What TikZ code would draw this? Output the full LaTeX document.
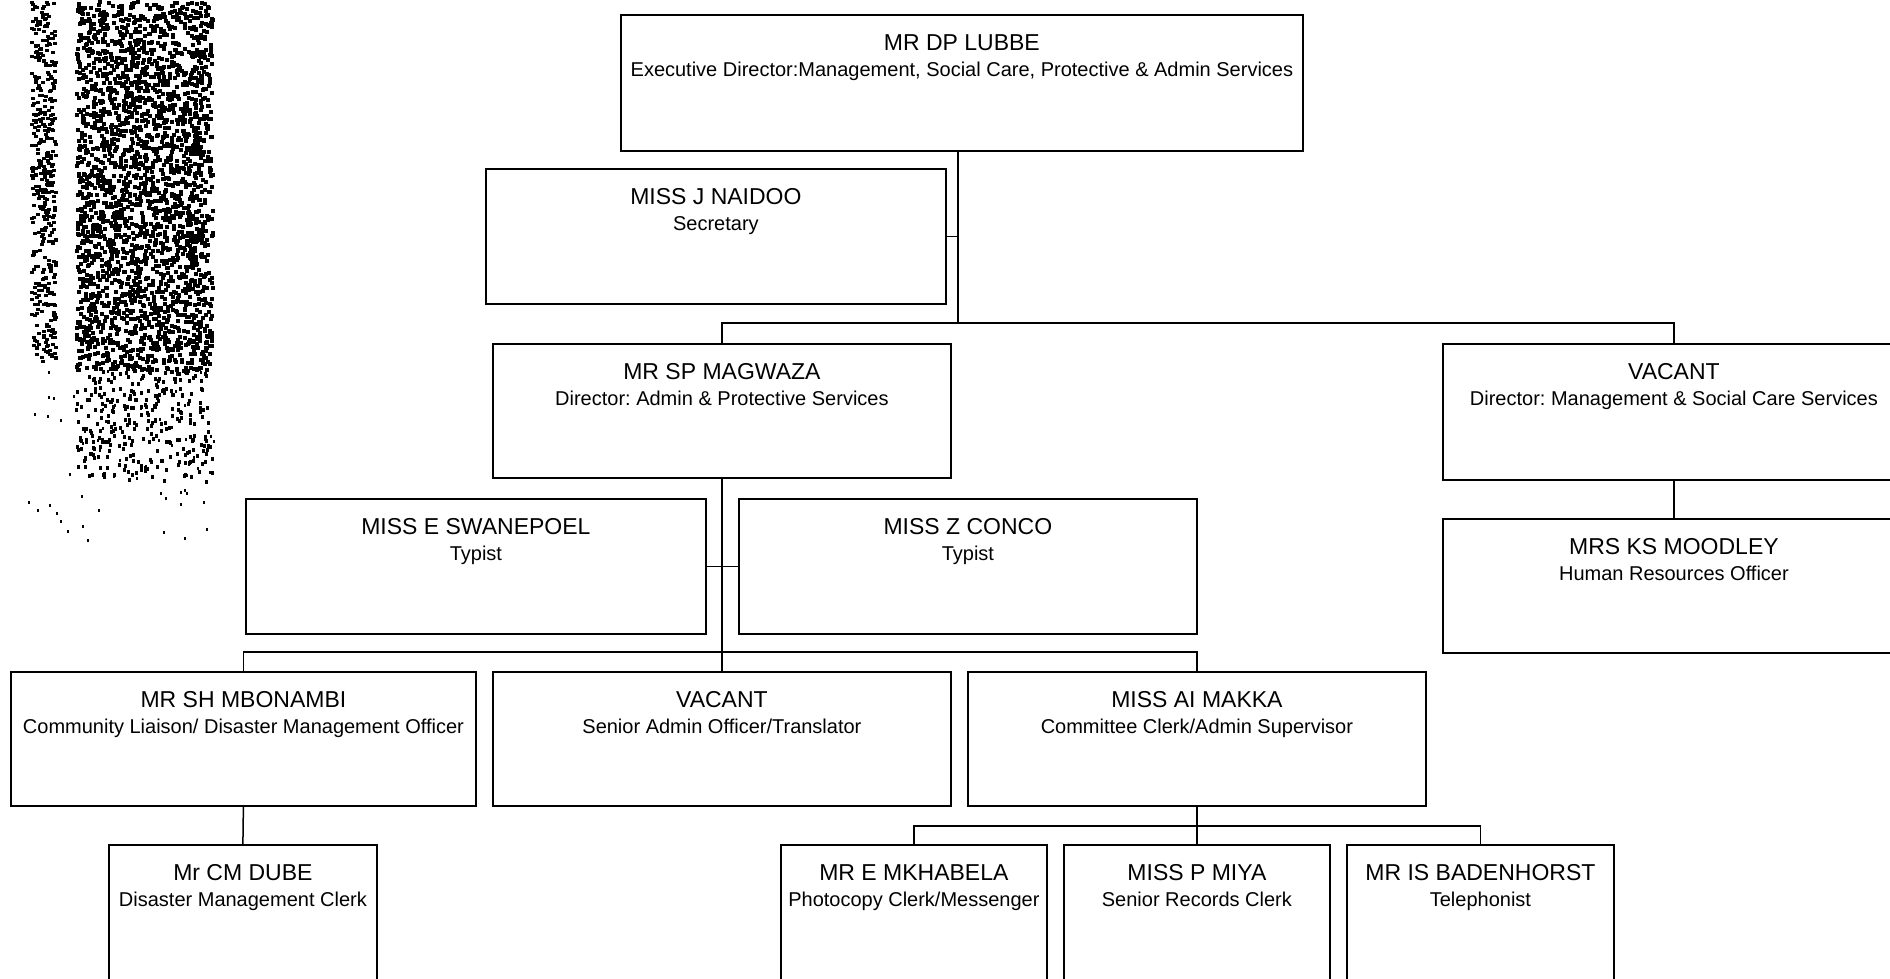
\documentclass[tikz,border=0pt]{standalone}
\usepackage{fontspec}
\setmainfont{Liberation Sans}
\usetikzlibrary{positioning, calc}
\frenchspacing

\tikzset{
	post/.style = {draw, line width=1.8pt, inner sep=0pt, anchor=north west,
		text height=36pt, font=\fontsize{20}{25.5}\selectfont},
	link/.style = {line width=1.5pt},
}
\newcommand{\who}[1]{{\fontsize{23}{25.5}\selectfont #1}}

\begin{document}
\begin{tikzpicture}[x=1pt, y=-1pt]
	\useasboundingbox (0,0) rectangle (1890,979);
	\clip (0,0) rectangle (1890,979);

	% scanner speckle on the left margin
	\pgfmathsetseed{11}
	\foreach \i in {1,...,2600} {
		\fill ({75+136*rnd},{370*rnd}) rectangle ++(4,4);
	}
	\foreach \i in {1,...,300} {
		\fill ({75+136*rnd},{370+110*rnd}) rectangle ++(3,4);
	}
	\foreach \i in {1,...,420} {
		\fill ({30+24*rnd},{360*rnd}) rectangle ++(4,3);
	}
	\foreach \i in {1,...,60} {
		\fill ({28+190*rnd},{360+180*rnd}) rectangle ++(2,3);
	}

	% level 1
	\node[post, minimum width=682, text depth=100] (lubbe) at (620,14) {\begin{tabular}[t]{c}
			\who{MR DP LUBBE} \\
			Executive Director:Management, Social Care, Protective \& Admin Services
	\end{tabular}};
	\node[post, minimum width=460, text depth=99] (naidoo) at (485,168) {\begin{tabular}[t]{c}
			\who{MISS J NAIDOO} \\
			Secretary
	\end{tabular}};

	% level 2
	\node[post, minimum width=458, text depth=98] (magwaza) at (492,343) {\begin{tabular}[t]{c}
			\who{MR SP MAGWAZA} \\
			Director: Admin \& Protective Services
	\end{tabular}};
	\node[post, minimum width=462, text depth=100] (vacdir) at (1442,343) {\begin{tabular}[t]{c}
			\who{VACANT} \\
			Director: Management \& Social Care Services
	\end{tabular}};
	\node[post, minimum width=462, text depth=98] (moodley) at (1442,518) {\begin{tabular}[t]{c}
			\who{MRS KS MOODLEY} \\
			Human Resources Officer
	\end{tabular}};
	\node[post, minimum width=460, text depth=99] (swanepoel) at (245,498) {\begin{tabular}[t]{c}
			\who{MISS E SWANEPOEL} \\
			Typist
	\end{tabular}};
	\node[post, minimum width=458, text depth=99] (conco) at (738,498) {\begin{tabular}[t]{c}
			\who{MISS Z CONCO} \\
			Typist
	\end{tabular}};

	% level 3
	\node[post, minimum width=465, text depth=98] (mbonambi) at (10,671) {\begin{tabular}[t]{c}
			\who{MR SH MBONAMBI} \\
			Community Liaison/ Disaster Management Officer
	\end{tabular}};
	\node[post, minimum width=458, text depth=98] (vacadmin) at (492,671) {\begin{tabular}[t]{c}
			\who{VACANT} \\
			Senior Admin Officer/Translator
	\end{tabular}};
	\node[post, minimum width=458, text depth=98] (makka) at (967,671) {\begin{tabular}[t]{c}
			\who{MISS AI MAKKA} \\
			Committee Clerk/Admin Supervisor
	\end{tabular}};

	% level 4
	\node[post, minimum width=268, text depth=140] (dube) at (108,844) {\begin{tabular}[t]{c}
			\who{Mr CM DUBE} \\
			Disaster Management Clerk
	\end{tabular}};
	\node[post, minimum width=266, text depth=140] (mkhabela) at (780,844) {\begin{tabular}[t]{c}
			\who{MR E MKHABELA} \\
			Photocopy Clerk/Messenger
	\end{tabular}};
	\node[post, minimum width=266, text depth=140] (miya) at (1063,844) {\begin{tabular}[t]{c}
			\who{MISS P MIYA} \\
			Senior Records Clerk
	\end{tabular}};
	\node[post, minimum width=267, text depth=140] (badenhorst) at (1346,844) {\begin{tabular}[t]{c}
			\who{MR IS BADENHORST} \\
			Telephonist
	\end{tabular}};

	% connectors
	\coordinate (bus1) at (958,323);
	\coordinate (bus2) at (721,652);
	\coordinate (bus3) at (1196,826);
	\draw[link] (lubbe.south -| bus1) -- (bus1);
	\draw[link] (naidoo.east) -- (naidoo.east -| bus1);
	\draw[link] (magwaza.north) -- (magwaza.north |- bus1) -- (vacdir.north |- bus1) -- (vacdir.north);
	\draw[link] (vacdir.south) -- (moodley.north);
	\draw[link] (magwaza.south) -- (vacadmin.north);
	\draw[link] (swanepoel.east) -- (conco.west);
	\draw[link] (mbonambi.north) -- (mbonambi.north |- bus2) -- (makka.north |- bus2) -- (makka.north);
	\draw[link] (mbonambi.south) -- (dube.north);
	\draw[link] (makka.south) -- (miya.north);
	\draw[link] (mkhabela.north) -- (mkhabela.north |- bus3) -- (badenhorst.north |- bus3) -- (badenhorst.north);
\end{tikzpicture}
\end{document}
